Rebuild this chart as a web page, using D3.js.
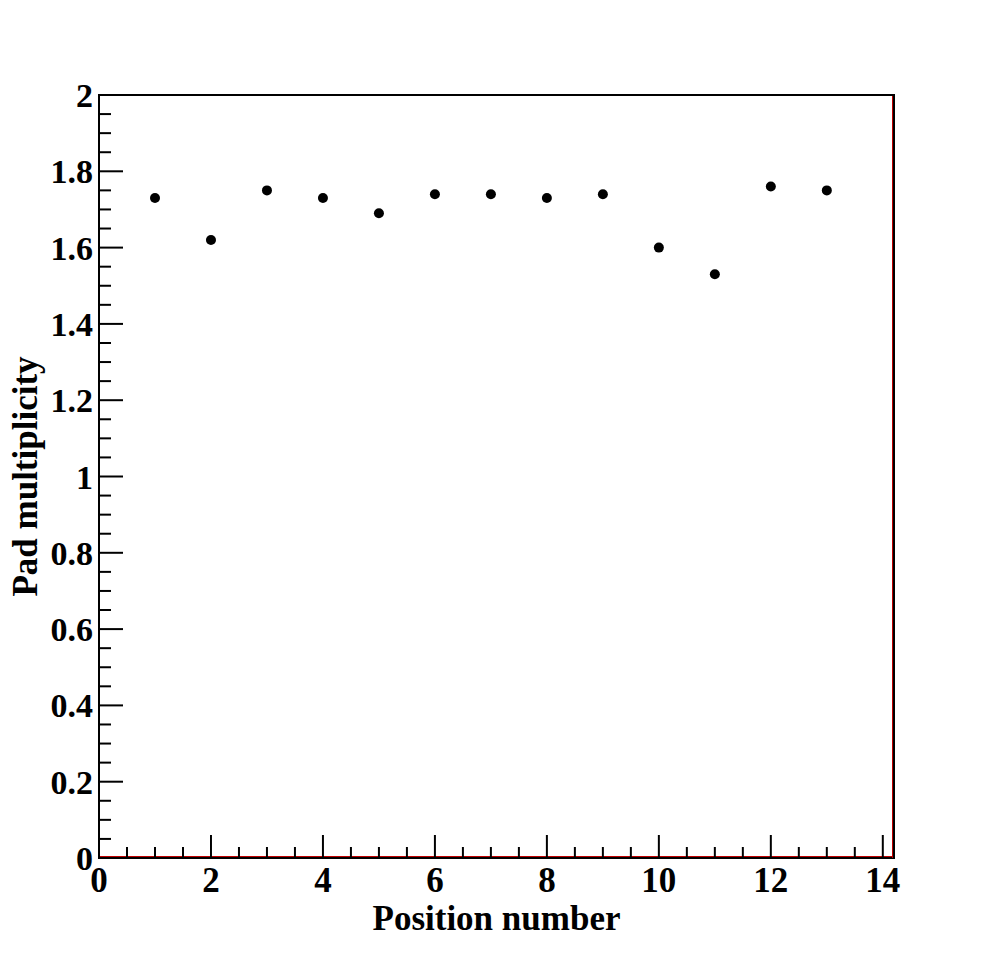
<!DOCTYPE html>
<html><head><meta charset="utf-8">
<script src="https://cdn.jsdelivr.net/npm/d3@7"></script>
<style>body{margin:0;background:#fff}svg{display:block}</style>
</head><body>
<script>
const positions = [1,2,3,4,5,6,7,8,9,10,11,12,13];
const multiplicity = [1.73,1.62,1.75,1.73,1.69,1.74,1.74,1.73,1.74,1.60,1.53,1.76,1.75];
const xTicks = [0,2,4,6,8,10,12,14];
const yTicks = [0,0.2,0.4,0.6,0.8,1,1.2,1.4,1.6,1.8,2];
const xTitle = "Position number";
const yTitle = "Pad multiplicity";

const W = 994, H = 954;
const L = 99, R = 894, T = 95, B = 858;
const svg = d3.select("body").append("svg").attr("width", W).attr("height", H);
const x = d3.scaleLinear().domain([0, 14.2]).range([L, R]);
const y = d3.scaleLinear().domain([0, 2]).range([B, T]);
const font = "'Liberation Serif','Times New Roman',serif";

// frame
svg.append("rect").attr("x", L).attr("y", T).attr("width", R - L).attr("height", B - T)
  .attr("fill", "none").attr("stroke", "#000").attr("stroke-width", 2);
// red inner lines (right & bottom)
svg.append("line").attr("x1", R - 1.5).attr("x2", R - 1.5).attr("y1", T + 1).attr("y2", B)
  .attr("stroke", "#c00000").attr("stroke-width", 1);
svg.append("line").attr("x1", L + 1).attr("x2", R - 1).attr("y1", B - 1.5).attr("y2", B - 1.5)
  .attr("stroke", "#c00000").attr("stroke-width", 1);

// x ticks
const xMinor = d3.range(0, 14.01, 0.5);
svg.append("g").selectAll("line").data(xMinor).join("line")
  .attr("x1", d => x(d)).attr("x2", d => x(d))
  .attr("y1", B).attr("y2", d => B - (Math.abs(d % 2) < 1e-9 ? 23 : 11))
  .attr("stroke", "#000").attr("stroke-width", 2);
svg.append("g").selectAll("text").data(xTicks).join("text")
  .attr("x", d => x(d)).attr("y", B + 34)
  .attr("text-anchor", "middle").attr("font-family", font).attr("font-weight", "bold")
  .attr("font-size", 35).text(d => d);

// y ticks
const yMinor = d3.range(0, 2.001, 0.05);
svg.append("g").selectAll("line").data(yMinor).join("line")
  .attr("x1", L).attr("x2", d => L + (Math.abs(Math.round(d * 100) % 20) === 0 ? 24 : 12))
  .attr("y1", d => y(d)).attr("y2", d => y(d))
  .attr("stroke", "#000").attr("stroke-width", 2);
svg.append("g").selectAll("text").data(yTicks).join("text")
  .attr("x", L - 6).attr("y", d => y(d) + 12)
  .attr("text-anchor", "end").attr("font-family", font).attr("font-weight", "bold")
  .attr("font-size", 34).text(d => d);

// titles
svg.append("text").attr("x", (L + R) / 2).attr("y", 930)
  .attr("text-anchor", "middle").attr("font-family", font).attr("font-weight", "bold")
  .attr("font-size", 35).text(xTitle);
svg.append("text").attr("transform", `translate(37,${(T + B) / 2}) rotate(-90)`)
  .attr("text-anchor", "middle").attr("font-family", font).attr("font-weight", "bold")
  .attr("font-size", 35).text(yTitle);

// points
svg.append("g").selectAll("circle").data(positions).join("circle")
  .attr("cx", d => x(d)).attr("cy", (d, i) => y(multiplicity[i])).attr("r", 5)
  .attr("fill", "#000");
</script>
</body></html>
